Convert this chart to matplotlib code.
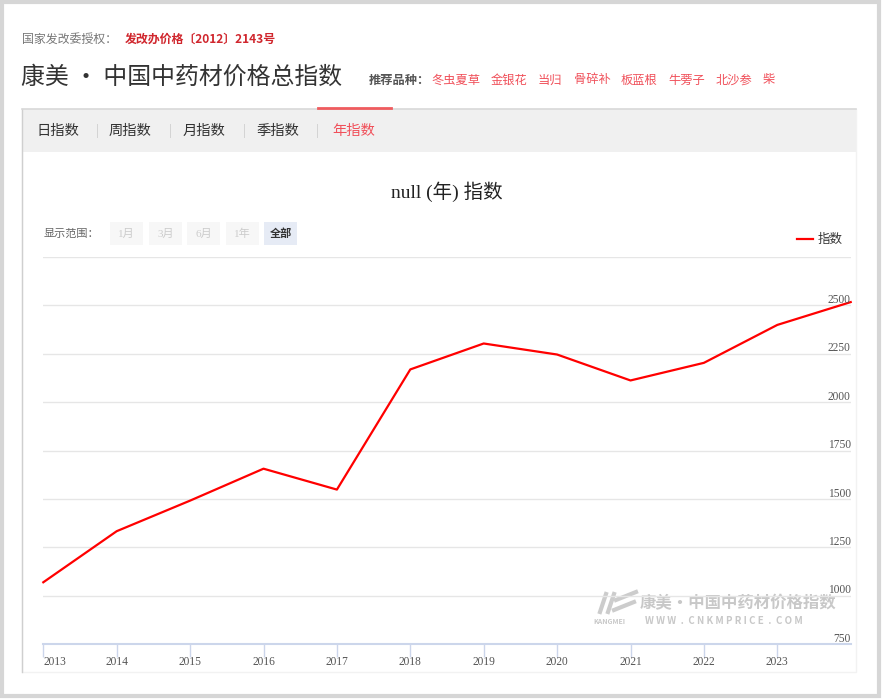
import matplotlib.pyplot as plt
from matplotlib.patches import Rectangle

plt.rcParams['font.family'] = ['Noto Sans CJK SC', 'DejaVu Sans']

# 数据
years = [2013, 2014, 2015, 2016, 2017, 2018, 2019, 2020, 2021, 2022, 2023, 2024]
values = [1069, 1333, 1491, 1656, 1548, 2169, 2303, 2246, 2112, 2203, 2399, 2517]
tick_years = [2013, 2014, 2015, 2016, 2017, 2018, 2019, 2020, 2021, 2022, 2023]
y_ticks = [750, 1000, 1250, 1500, 1750, 2000, 2250, 2500, 2750]
y_labels = ["750", "1000", "1250", "1500", "1750", "2000", "2250", "2500", ""]

tabs = ["日指数", "周指数", "月指数", "季指数", "年指数"]
tab_x = [36, 109, 183, 256, 332]
items = ["冬虫夏草", "金银花", "当归", "骨碎补", "板蓝根", "牛蒡子", "北沙参", "柴"]
item_x = [431, 491, 538, 574, 621, 668, 716, 763]
ranges = ["1月", "3月", "6月", "1年", "全部"]
range_x = [110, 149, 187, 226, 264]

W, H = 882, 699
fig = plt.figure(figsize=(W / 100, H / 100), dpi=100)

# 背景层，像素坐标
bg = fig.add_axes([0, 0, 1, 1])
bg.set_xlim(0, W)
bg.set_ylim(H, 0)
bg.axis("off")

# 外框
bg.add_patch(Rectangle((1.5, 1.5), W - 4.5, H - 4.5, fill=False, ec="#d6d6d6", lw=3))
# 内容框
bg.add_patch(Rectangle((22, 109), 834, 563, fc="white", ec="#f2f2f2", lw=1))
bg.plot([22, 22], [109, 672], color="#cfcfcf", lw=1)
# 标签栏
bg.add_patch(Rectangle((22, 109), 834, 43, fc="#f0f0f0", ec="none"))
bg.plot([22, 856], [109, 109], color="#d8d8d8", lw=1.2)
bg.plot([318, 391], [108, 108], color="#ef5b5e", lw=2)

bg.text(22, 39, "国家发改委授权：", fontsize=8.6, color="#777777", va="center")
bg.text(125, 39, "发改办价格〔2012〕2143号", fontsize=8.6, color="#d0262d",
        fontweight="bold", va="center")
bg.text(21, 77, "康美 · 中国中药材价格总指数", fontsize=17.2, color="#333333", va="center")
bg.text(369, 80, "推荐品种：", fontsize=8.8, color="#555555", fontweight="bold", va="center")
for name, x in zip(items, item_x):
    bg.text(x, 80, name, fontsize=8.8, color="#f0505a", va="center")

for i, (name, x) in enumerate(zip(tabs, tab_x)):
    c = "#f0505a" if i == len(tabs) - 1 else "#333333"
    bg.text(x, 131, name, fontsize=10.3, color=c, va="center")
    if i < len(tabs) - 1:
        bg.text(x + 60, 131, "|", fontsize=9, color="#cccccc", va="center")

bg.text(447, 192, "null (年) 指数", fontsize=14, color="#222222", ha="center", va="center",
        family=["Liberation Serif", "Noto Sans CJK SC"])

bg.text(44, 234, "显示范围：", fontsize=8, color="#666666", va="center")
for i, (r, x) in enumerate(zip(ranges, range_x)):
    last = i == len(ranges) - 1
    bg.add_patch(Rectangle((x, 222), 33, 23, fc="#e6ebf5" if last else "#f7f7f7", ec="none"))
    bg.text(x + 16.5, 234, r, fontsize=8, ha="center", va="center",
            color="#333333" if last else "#cccccc", fontweight="bold" if last else "normal",
            family=["Liberation Serif", "Noto Sans CJK SC"])

# 图例
bg.plot([797, 813], [239, 239], color="#ff0000", lw=1.6)
bg.text(818, 239, "指数", fontsize=9, color="#333333", va="center")

# 水印
bg.text(640, 603, "康美·中国中药材价格指数", fontsize=11.8, color="#c8c8c8",
        fontweight="bold", va="center")
bg.text(593, 621, "KANGMEI", fontsize=5, color="#c8c8c8", fontweight="bold", va="center")
bg.text(645, 621, "W W W  .  C N K M P R I C E  .  C O M", fontsize=7, color="#c8c8c8",
        fontweight="bold", va="center")
bg.plot([600, 606], [612, 594], color="#cccccc", lw=3)
bg.plot([608, 614], [612, 594], color="#cccccc", lw=3)
bg.plot([616, 636], [600, 592], color="#cccccc", lw=3)
bg.plot([614, 634], [610, 602], color="#cccccc", lw=3)

# 主图
x0, x1 = 43.3, 850.7
y0, y1 = 644, 257
ax = fig.add_axes([x0 / W, 1 - y0 / H, (x1 - x0) / W, (y0 - y1) / H])
ax.patch.set_alpha(0)
ax.set_xlim(2013, 2024)
ax.set_ylim(750, 2750)
for s in ax.spines.values():
    s.set_visible(False)
ax.set_yticks(y_ticks)
ax.set_yticklabels([])
ax.tick_params(axis="y", length=0)
ax.grid(axis="y", color="#e6e6e6", lw=1)
ax.axhline(750, color="#ccd6eb", lw=1.5, clip_on=False)
ax.set_xticks(tick_years)
ax.set_xticklabels([])
ax.tick_params(axis="x", length=9, width=1, color="#ccd6eb", direction="out")

ax.plot(years, values, color="#ff0000", lw=1.6, clip_on=False)

for v, lab in zip(y_ticks, y_labels):
    ax.annotate(lab, (2024, v), xytext=(0, -0.5), textcoords="offset points",
                ha="right", va="bottom", fontsize=8.3, color="#555555",
                family="Liberation Serif")
for i, yr in enumerate(tick_years):
    ax.annotate(str(yr), (yr, 750), xytext=(0, -8.5), textcoords="offset points",
                ha="left" if i == 0 else "center", va="top", fontsize=8.3,
                color="#555555", family="Liberation Serif", annotation_clip=False)

fig.savefig("out.png", dpi=100)
